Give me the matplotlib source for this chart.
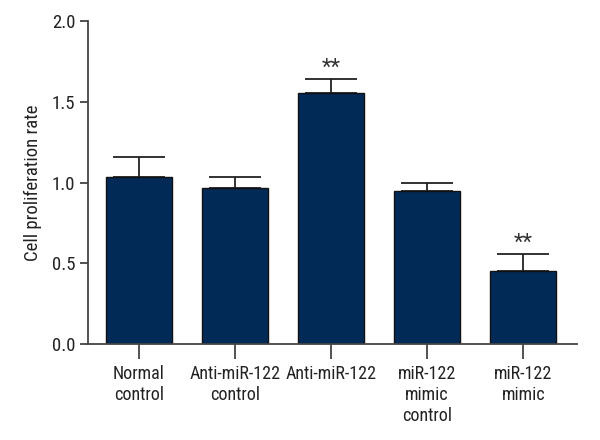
import matplotlib
matplotlib.use("Agg")
import matplotlib.pyplot as plt
from matplotlib import font_manager

categories = ["Normal\ncontrol", "Anti-miR-122\ncontrol", "Anti-miR-122",
              "miR-122\nmimic\ncontrol", "miR-122\nmimic"]
values = [1.035, 0.965, 1.555, 0.95, 0.455]
errors = [0.125, 0.07, 0.085, 0.05, 0.10]
significance = ["", "", "**", "", "**"]
yticks = [0.0, 0.5, 1.0, 1.5, 2.0]

fl = font_manager.fontManager.ttflist
names = {f.name for f in fl}
fam = None
for cand in ["Liberation Sans Narrow", "Roboto Condensed", "Open Sans Condensed", "Arial Narrow"]:
    if cand in names:
        fam = cand
        break
stretch = "normal"
if fam is None:
    if any(f.name == "DejaVu Sans" and f.stretch in ("condensed", 500, "semi-condensed") for f in fl):
        stretch = "condensed"
    fam = "DejaVu Sans"
plt.rcParams["font.family"] = [fam, "DejaVu Sans"]
plt.rcParams["font.stretch"] = stretch

fig = plt.figure(figsize=(6, 4.4), dpi=100)
ax = fig.add_axes([0.1467, 0.218, 0.815, 0.734])

x = list(range(len(categories)))
ax.bar(x, values, width=0.69, color="#022a57", edgecolor="#111111", linewidth=1.0, zorder=2)
ax.errorbar(x, values, yerr=[[0]*len(errors), errors], fmt="none", ecolor="#222222",
            elinewidth=1.3, capsize=18.5, capthick=1.3, zorder=1)
for xi, v, e, s in zip(x, values, errors, significance):
    if s:
        ax.text(xi, v + e + 0.003, s, ha="center", va="bottom", fontsize=16, color="#333333")

ax.set_xlim(-0.53, 4.56)
ax.set_ylim(0, 2.0)
ax.set_yticks(yticks)
ax.set_yticklabels([f"{t:.1f}" for t in yticks])
ax.set_xticks(x)
ax.set_xticklabels(categories, fontsize=13, linespacing=1.2, color="#222222")
ax.tick_params(axis="y", labelsize=13.5, length=6, width=1.3, color="#444444",
               direction="out", labelcolor="#222222", pad=3)
ax.tick_params(axis="x", length=11, width=1.3, color="#444444", direction="out", pad=4)
ax.set_ylabel("Cell proliferation rate", fontsize=13.5, labelpad=7, color="#222222")
for sp in ["top", "right"]:
    ax.spines[sp].set_visible(False)
for sp in ["left", "bottom"]:
    ax.spines[sp].set_linewidth(1.3)
    ax.spines[sp].set_color("#444444")

fig.savefig("out.png", dpi=100)
